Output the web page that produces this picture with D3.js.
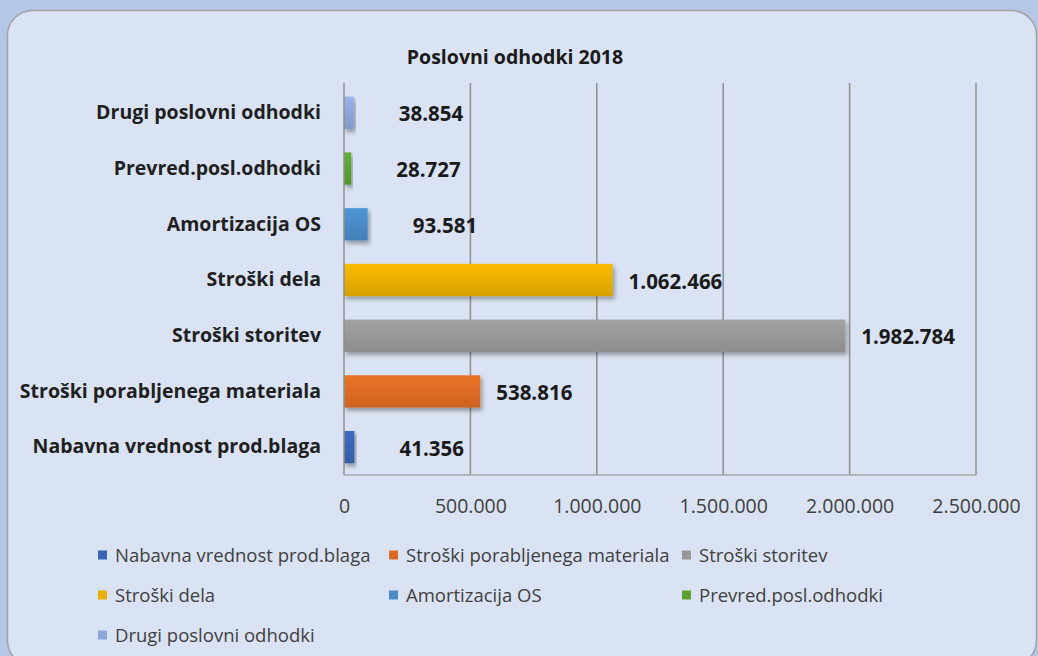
<!DOCTYPE html>
<html>
<head>
<meta charset="utf-8">
<script src="https://cdn.jsdelivr.net/npm/d3@7"></script>
<style>
  html, body { margin: 0; padding: 0; background: #b4c7e7; }
  svg { display: block; font-family: "Open Sans", sans-serif; }
</style>
</head>
<body>
<div id="chart"></div>
<script>
// Poslovni odhodki 2018 - horizontal bar chart

const categories = ["Nabavna vrednost prod.blaga", "Stroški porabljenega materiala", "Stroški storitev",
                    "Stroški dela", "Amortizacija OS", "Prevred.posl.odhodki", "Drugi poslovni odhodki"];
const values = [41356, 538816, 1982784, 1062466, 93581, 28727, 38854];
const colors = ["#3a63b4", "#dc6b24", "#989898", "#eaae00", "#4a8bc8", "#5ca22f", "#8ea6da"];
const xTicks = [0, 500000, 1000000, 1500000, 2000000, 2500000];
const title = "Poslovni odhodki 2018";

const data = categories.map((c, i) => ({cat: c, value: values[i], color: colors[i]}));

const width = 1038,
      height = 656,
      margin = ({top: 85, right: 62, bottom: 181, left: 344});

const fmt = d3.formatLocale({decimal: ",", thousands: ".", grouping: [3], currency: ["", ""]}).format(",d");

let svg = d3.select("#chart")
    .append("svg")
    .attr("width", width)
    .attr("height", height)
    .attr("viewBox", [0, 0, width, height]);

let defs = svg.append("defs");

// soft shadow under the bars
let shadow = defs.append("filter")
    .attr("id", "shadow")
    .attr("x", "-5%").attr("y", "-20%")
    .attr("width", "120%").attr("height", "160%");
shadow.append("feDropShadow")
    .attr("dx", 2).attr("dy", 3)
    .attr("stdDeviation", 2)
    .attr("flood-color", "#000")
    .attr("flood-opacity", 0.35);

data.forEach((d, i) => {
    let g = defs.append("linearGradient")
        .attr("id", "grad" + i)
        .attr("x1", 0).attr("y1", 0).attr("x2", 0).attr("y2", 1);
    g.append("stop").attr("offset", "0%").attr("stop-color", d3.color(d.color).brighter(0.2));
    g.append("stop").attr("offset", "100%").attr("stop-color", d3.color(d.color).darker(0.22));
});

// chart area panel
svg.append("rect")
    .attr("x", 7.5)
    .attr("y", 10.5)
    .attr("width", 1029)
    .attr("height", 655)
    .attr("rx", 25)
    .attr("fill", "#dae3f3")
    .attr("stroke", "#a3a3a3")
    .attr("stroke-width", 1.5);

svg.append("text")
    .attr("x", 515)
    .attr("y", 64)
    .attr("text-anchor", "middle")
    .attr("font-size", 19.5)
    .attr("font-weight", "bold")
    .attr("fill", "#1a1a1a")
    .text(title);

let x = d3.scaleLinear()
    .domain([0, 2500000])
    .range([margin.left, width - margin.right]);

let y = d3.scaleBand()
    .domain(categories.slice().reverse())
    .range([margin.top, height - margin.bottom])
    .paddingInner(0.42)
    .paddingOuter(0.21);

const plotTop = 83;

// vertical gridlines
svg.append("g")
    .selectAll("line")
    .data(xTicks.slice(1))
    .join("line")
    .attr("x1", d => x(d)).attr("x2", d => x(d))
    .attr("y1", plotTop).attr("y2", height - margin.bottom)
    .attr("stroke", "#8f8f8f")
    .attr("stroke-width", 1.5);

// bottom axis line
svg.append("line")
    .attr("x1", x(0)).attr("x2", x(2500000))
    .attr("y1", height - margin.bottom).attr("y2", height - margin.bottom)
    .attr("stroke", "#a6a6a6")
    .attr("stroke-width", 1.5);

// x tick labels
const xAxis = g => g
    .attr("transform", `translate(0,${height - margin.bottom})`)
    .call(d3.axisBottom(x).tickValues(xTicks).tickFormat(fmt).tickSize(0).tickPadding(24))
    .call(g => g.select(".domain").remove())
    .call(g => g.selectAll("text")
        .attr("font-family", "Open Sans, sans-serif")
        .attr("font-size", 19.5)
        .attr("fill", "#404040"));

svg.append("g").call(xAxis);

// bars
let bar = svg.selectAll(".bar")
    .data(data)
    .join("g")
    .attr("class", "bar");

bar.append("rect")
    .attr("x", x(0))
    .attr("y", d => y(d.cat))
    .attr("width", d => x(d.value) - x(0))
    .attr("height", y.bandwidth())
    .attr("fill", (d, i) => `url(#grad${i})`)
    .attr("filter", "url(#shadow)");

// left axis line
svg.append("line")
    .attr("x1", x(0)).attr("x2", x(0))
    .attr("y1", plotTop).attr("y2", height - margin.bottom)
    .attr("stroke", "#8f8f8f")
    .attr("stroke-width", 1.5);

// category labels
const yAxis = g => g
    .attr("transform", `translate(${x(0)},0)`)
    .call(d3.axisLeft(y).tickSize(0).tickPadding(23))
    .call(g => g.select(".domain").remove())
    .call(g => g.selectAll("text")
        .attr("font-family", "Open Sans, sans-serif")
        .attr("font-size", 19.5)
        .attr("font-weight", "bold")
        .attr("fill", "#1f1f1f"));

svg.append("g").call(yAxis);

// value labels (short bars have their labels pushed further out, as in the original)
bar.append("text")
    .attr("x", d => x(d.value) + (d.value < 100000 ? 45 : 16))
    .attr("y", d => y(d.cat) + y.bandwidth() / 2)
    .attr("dy", "0.42em")
    .attr("font-size", 20.5)
    .attr("font-weight", "bold")
    .attr("fill", "#1a1a1a")
    .text(d => fmt(d.value));

// legend, three per row
const legendX = [98, 389, 682];
let legend = svg.append("g")
    .selectAll("g")
    .data(data)
    .join("g")
    .attr("transform", (d, i) => `translate(${legendX[i % 3]},${555 + 40 * Math.floor(i / 3)})`);

legend.append("rect")
    .attr("x", 0)
    .attr("y", -4.5)
    .attr("width", 9)
    .attr("height", 9)
    .attr("fill", d => d.color);

legend.append("text")
    .attr("x", 17)
    .attr("dy", "0.36em")
    .attr("font-size", 18.5)
    .attr("fill", "#404040")
    .text(d => d.cat);
</script>
</body>
</html>
